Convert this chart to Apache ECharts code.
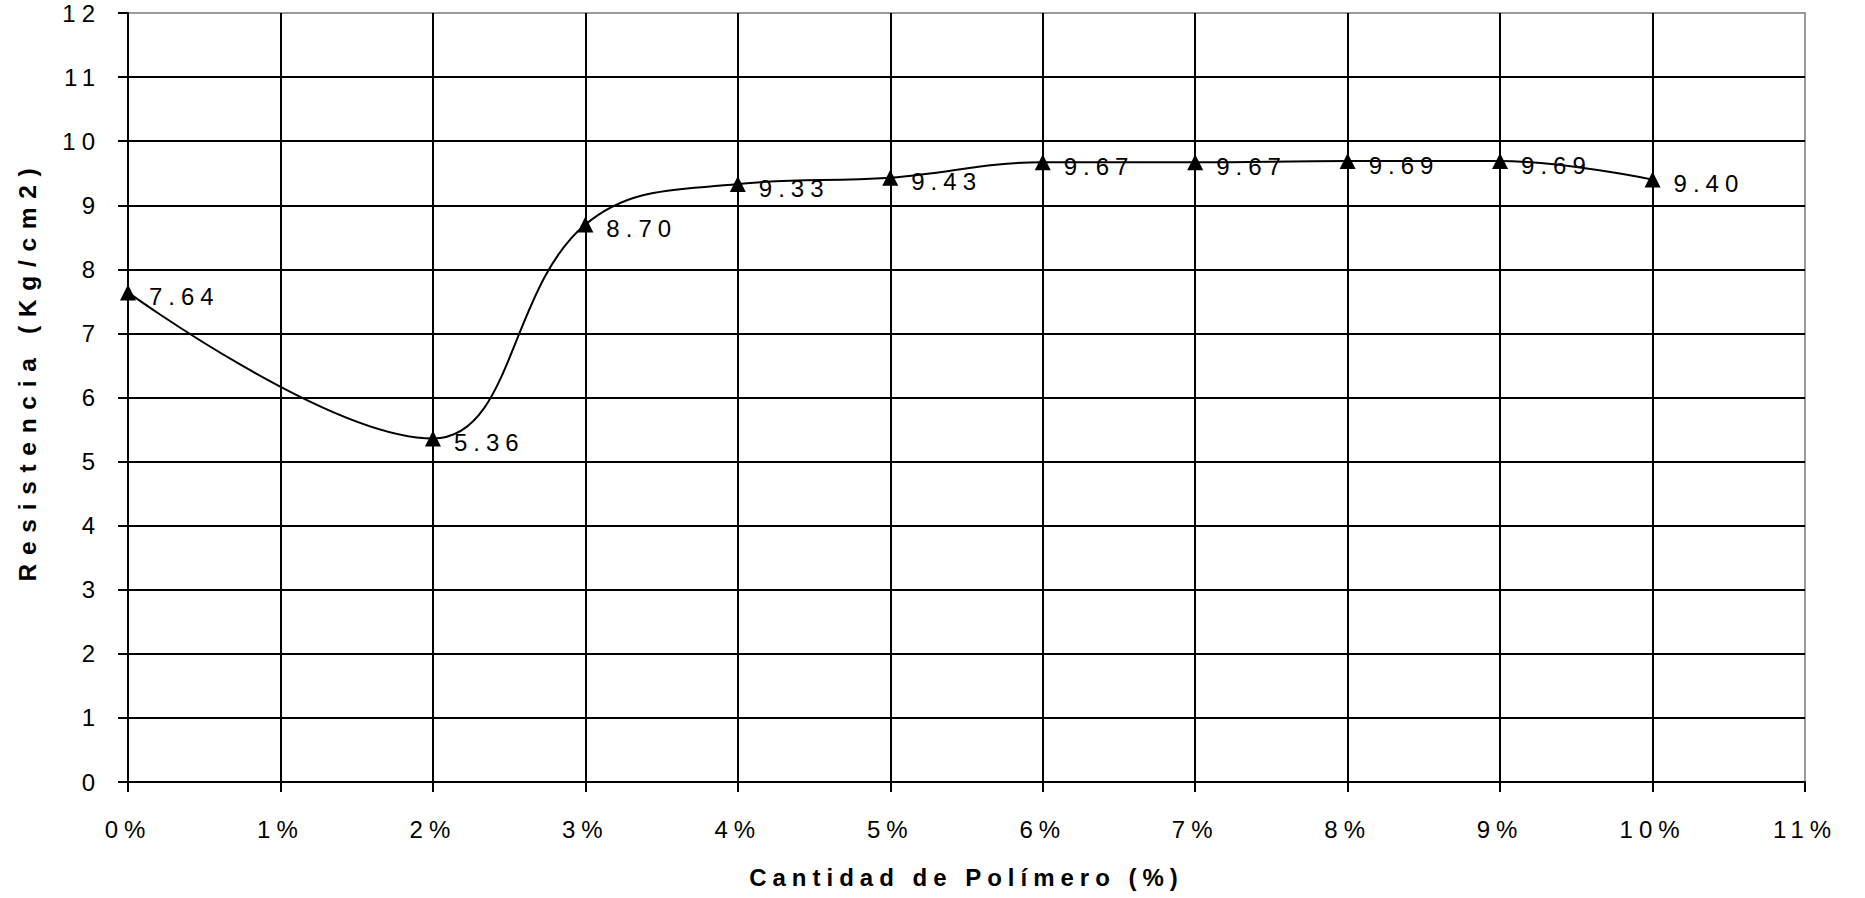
<!DOCTYPE html>
<html>
<head>
<meta charset="utf-8">
<style>
  html, body { margin: 0; padding: 0; background: #fff; }
  #chart { width: 1865px; height: 898px; }
  #chart text { letter-spacing: 6px; }
  #chart text[style*="24.5px"] { letter-spacing: 8.7px; }
</style>
<script src="https://cdn.jsdelivr.net/npm/echarts@6/dist/echarts.min.js"></script>
</head>
<body>
<div id="chart"></div>
<script>
// Data
const polymerPct = [0, 2, 3, 4, 5, 6, 7, 8, 9, 10];
const resistance = [7.64, 5.36, 8.70, 9.33, 9.43, 9.67, 9.67, 9.69, 9.69, 9.40];
const xTitle = 'Cantidad de Polímero (%)';
const yTitle = 'Resistencia (Kg/cm2)';

const font = '"Liberation Sans", Arial, sans-serif';
const chart = echarts.init(document.getElementById('chart'), null, { renderer: 'svg' });

chart.setOption({
  animation: false,
  backgroundColor: '#ffffff',
  grid: {
    left: 128, right: 60, top: 13, bottom: 116,
    show: true, borderColor: '#9a9a9a', borderWidth: 2, backgroundColor: 'transparent'
  },
  xAxis: {
    type: 'value',
    min: 0, max: 11, interval: 1,
    name: xTitle,
    nameLocation: 'middle',
    nameGap: 83,
    nameTextStyle: { fontFamily: font, fontSize: 24, fontWeight: 'bold', color: '#000' },
    axisLine: { show: true, onZero: false, lineStyle: { color: '#000', width: 2 } },
    axisTick: { show: true, length: 10, lineStyle: { color: '#000', width: 2 } },
    axisLabel: { margin: 35, fontFamily: font, fontSize: 24, color: '#000', formatter: v => v + '%' },
    splitLine: { show: true, showMaxLine: false, lineStyle: { color: '#000', width: 2 } }
  },
  yAxis: {
    type: 'value',
    min: 0, max: 12, interval: 1,
    name: yTitle,
    nameLocation: 'middle',
    nameGap: 88,
    nameTextStyle: { fontFamily: font, fontSize: 24.5, fontWeight: 'bold', color: '#000', padding: [0, 0, 0, 54] },
    axisLine: { show: true, onZero: false, lineStyle: { color: '#000', width: 2 } },
    axisTick: { show: true, length: 10, lineStyle: { color: '#000', width: 2 } },
    axisLabel: { margin: 27, fontFamily: font, fontSize: 24, color: '#000' },
    splitLine: { show: true, showMaxLine: false, lineStyle: { color: '#000', width: 2 } }
  },
  series: [{
    type: 'line',
    data: polymerPct.map((x, i) => [x, resistance[i]]),
    smooth: 0.4,
    symbol: 'triangle',
    symbolSize: 16,
    lineStyle: { color: '#000', width: 2 },
    itemStyle: { color: '#000' },
    label: {
      show: true,
      position: 'right',
      distance: 13,
      offset: [0, 4],
      fontFamily: font,
      fontSize: 24,
      color: '#000',
      formatter: p => p.value[1].toFixed(2)
    }
  }]
});
</script>
</body>
</html>
